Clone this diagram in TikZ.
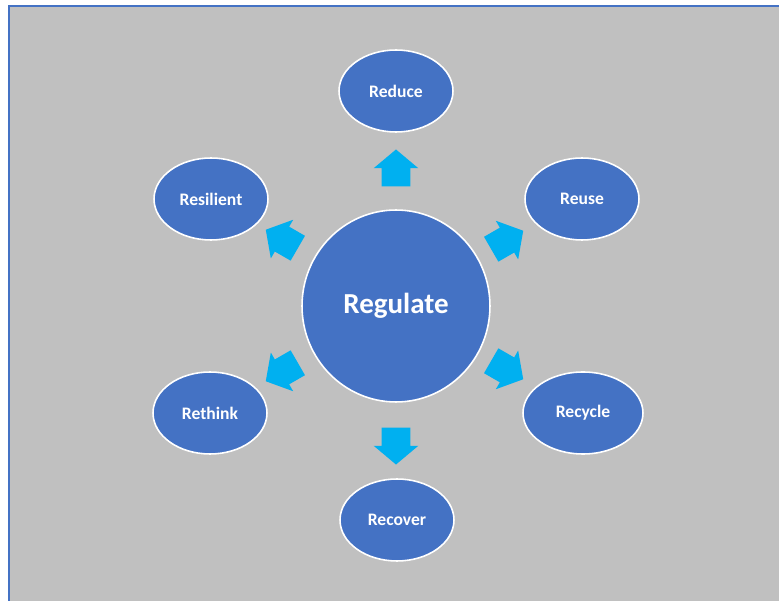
\documentclass[tikz,border=0pt]{standalone}
\usepackage{fontspec}
\setmainfont{Carlito}
\usetikzlibrary{shapes.geometric, shapes.arrows}
\definecolor{bgGrey}{HTML}{C0C0C0}
\definecolor{nodeBlue}{HTML}{4472C4}
\definecolor{arrowBlue}{HTML}{00B0F0}
\begin{document}
\begin{tikzpicture}[x=0.02cm, y=-0.02cm,
        n/.style={draw=white, line width=0.9pt, fill=nodeBlue, ellipse, minimum width=2.28cm, minimum height=1.64cm, inner sep=0pt, text=white, font=\bfseries\fontsize{10}{12}\selectfont},
        c/.style={draw=white, line width=0.9pt, fill=nodeBlue, ellipse, minimum width=3.76cm, minimum height=3.84cm, inner sep=0pt, text=white, font=\bfseries\fontsize{16.5}{20}\selectfont},
        a/.style={fill=arrowBlue, single arrow, minimum height=0.74cm, inner xsep=0pt, inner ysep=0.28cm, single arrow head extend=0.16cm, single arrow tip angle=100}]
        \useasboundingbox (0,0) rectangle (779,601);
        \fill[white] (0,0) rectangle (779,601);
        \fill[bgGrey] (9,6) rectangle (779,601);
        \draw[nodeBlue, line width=1.2pt] (9,601) -- (9,6) -- (779,6);

        \node[c] (reg) at (396, 306) {Regulate};

        \node[n] (red) at (396, 91) {Reduce};
        \node[n] (reu) at (582, 199) {Reuse};
        \node[n, minimum width=2.4cm] (rec) at (583, 413) {Recycle};
        \node[n] (rev) at (397, 520) {Recover};
        \node[n] (ret) at (210, 413) {Rethink};
        \node[n] (res) at (211, 199) {Resilient};

        \node[a, rotate=90] (a1) at (396, 174) {};
        \node[a, rotate=30] (a2) at (502, 243) {};
        \node[a, rotate=-30] (a3) at (502, 367) {};
        \node[a, rotate=-90] (a4) at (396, 440) {};
        \node[a, rotate=-150] (a5) at (287, 369) {};
        \node[a, rotate=150] (a6) at (287, 242) {};

    \end{tikzpicture}
\end{document}
